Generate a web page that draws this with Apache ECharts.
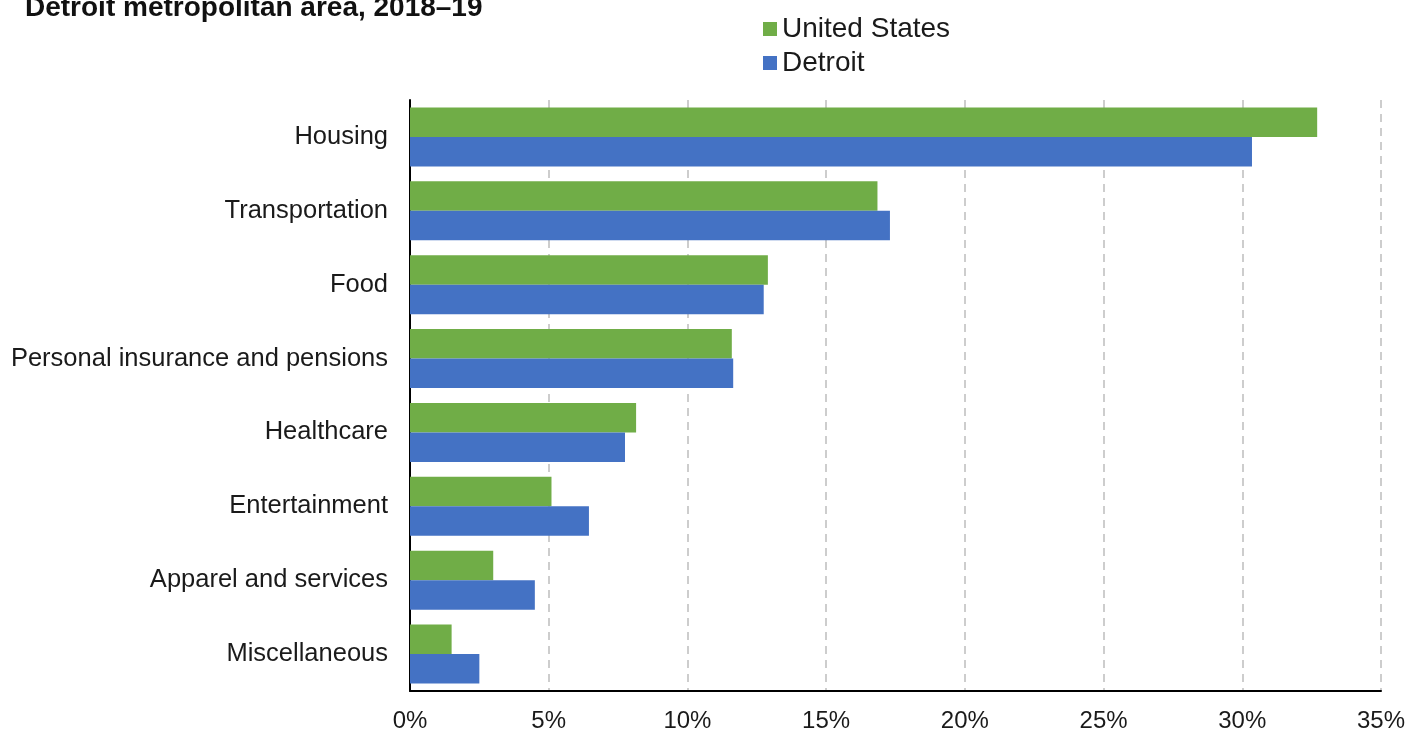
<!DOCTYPE html>
<html>
<head>
<meta charset="utf-8">
<script src="https://cdn.jsdelivr.net/npm/echarts@6/dist/echarts.min.js"></script>
<style>
html,body{margin:0;padding:0;background:#fff;}
#chart{width:1408px;height:733px;}
</style>
</head>
<body>
<div id="chart"></div>
<script>
const categories = ["Housing","Transportation","Food","Personal insurance and pensions","Healthcare","Entertainment","Apparel and services","Miscellaneous"];
const usValues = [32.7, 16.85, 12.9, 11.6, 8.15, 5.1, 3.0, 1.5];
const detroitValues = [30.35, 17.3, 12.75, 11.65, 7.75, 6.45, 4.5, 2.5];
const xTicks = [0,5,10,15,20,25,30,35];

const chart = echarts.init(document.getElementById('chart'));
chart.setOption({
  animation: false,
  backgroundColor: '#fff',
  title: {
    text: 'Detroit metropolitan area, 2018\u201319',
    left: 20, top: -11,
    textStyle: {fontFamily: 'Liberation Sans', fontWeight: 'bold', fontSize: 28, color: '#111'}
  },
  legend: {
    orient: 'vertical',
    left: 758, top: 10,
    itemWidth: 14, itemHeight: 14, itemGap: 6,
    icon: 'rect',
    textStyle: {fontFamily: 'Liberation Sans', fontSize: 28, color: '#1a1a1a', lineHeight: 27},
    data: ['United States', 'Detroit']
  },
  grid: {left: 410, right: 26, top: 100, bottom: 42, containLabel: false},
  xAxis: {
    type: 'value', min: 0, max: 35, interval: 5,
    axisLine: {show: true, lineStyle: {color: '#000', width: 2}},
    axisTick: {show: false},
    axisLabel: {margin: 18, fontFamily: 'Liberation Sans', fontSize: 24, color: '#1a1a1a',
      formatter: v => xTicks.includes(v) ? v + '%' : ''},
    splitLine: {show: true, lineStyle: {color: '#bdbdbd', width: 1.5, type: [8, 6]}}
  },
  yAxis: {
    type: 'category', data: categories, inverse: true,
    axisLine: {show: true, lineStyle: {color: '#000', width: 2}},
    axisTick: {show: false},
    axisLabel: {margin: 22, fontFamily: 'Liberation Sans', fontSize: 25.5, color: '#1a1a1a'}
  },
  series: [
    {name: 'United States', type: 'bar', data: usValues, barCategoryGap: '20%', barGap: '0%',
      itemStyle: {color: '#70ad47'}},
    {name: 'Detroit', type: 'bar', data: detroitValues, barCategoryGap: '20%', barGap: '0%',
      itemStyle: {color: '#4472c4'}}
  ]
});
</script>
</body>
</html>
